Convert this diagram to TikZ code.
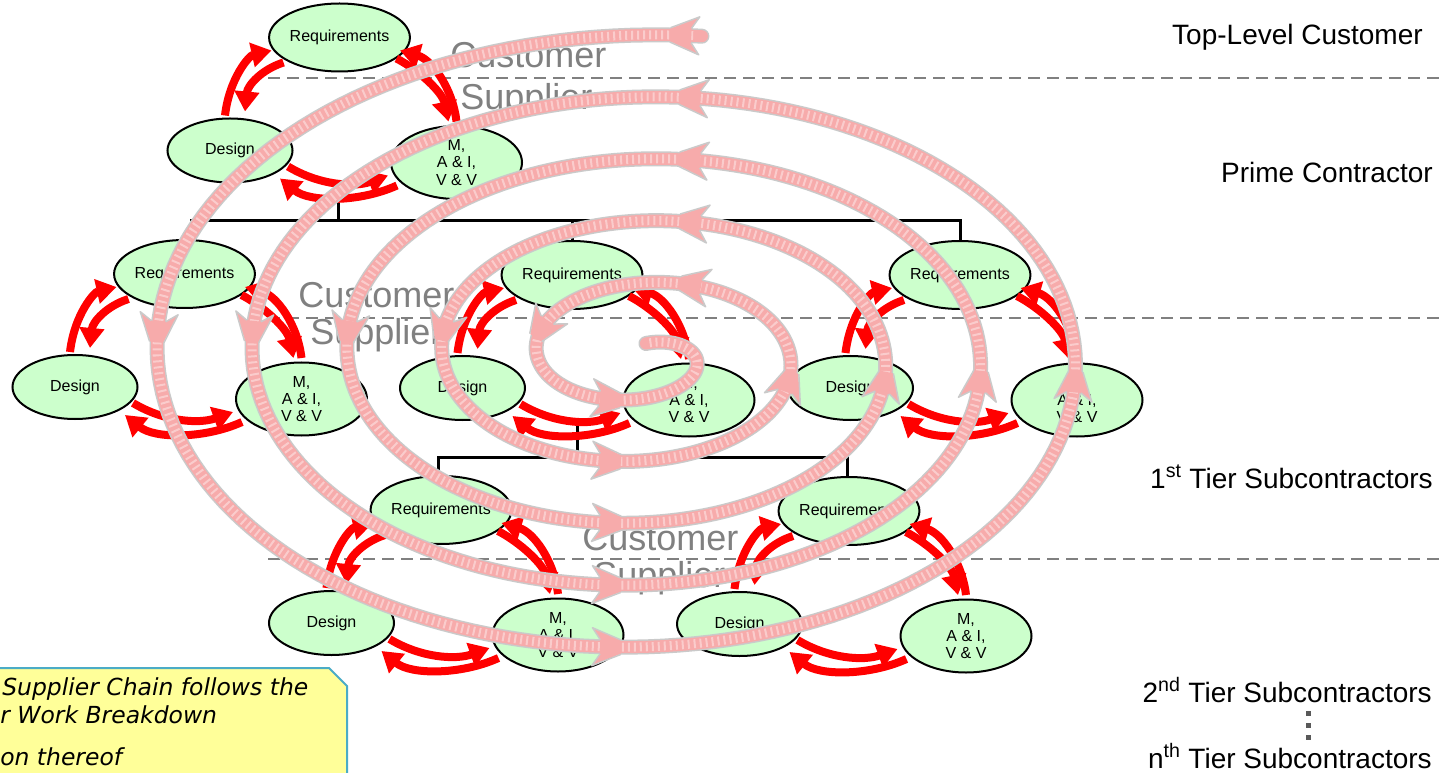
\documentclass[tikz,border=0pt]{standalone}
\usepackage{fontspec}
\setmainfont{Liberation Sans}
\newfontfamily\boxfont{DejaVu Sans}
\usetikzlibrary{arrows.meta,shapes.geometric,calc}
\definecolor{nodegreen}{HTML}{CCFFCC}
\definecolor{redarrow}{HTML}{FF0000}
\definecolor{dashgray}{HTML}{808080}
\definecolor{spiralpink}{HTML}{F7ABAB}
\definecolor{spiralgray}{HTML}{CACACA}
\definecolor{boxyellow}{HTML}{FFFF99}
\definecolor{boxteal}{HTML}{4BACC6}
\tikzset{
  proc/.style={ellipse, draw=black, line width=1.5pt, fill=nodegreen, inner sep=0pt,
    font=\fontsize{12}{13}\selectfont, align=center},
  reqn/.style={proc, minimum width=90.75pt, minimum height=51pt},
  desn/.style={proc, minimum width=93.75pt, minimum height=48pt},
  mn/.style={proc, minimum width=98.25pt, minimum height=54.75pt},
  flow/.style={draw=redarrow, line width=6pt, -{Triangle[length=15pt, width=18pt]}},
  sepline/.style={draw=dashgray, line width=1.9pt, dash pattern=on 9pt off 5.25pt},
  tree/.style={draw=black, line width=2.25pt},
  cslabel/.style={text=dashgray, font=\fontsize{27}{30}\selectfont, anchor=base west, inner sep=0pt},
  tierlabel/.style={font=\fontsize{21}{24}\selectfont, anchor=base east, inner sep=0pt},
  boxtext/.style={font=\boxfont\itshape\fontsize{17.6}{20}\selectfont, anchor=base west, inner sep=0pt},
}
\newcommand\cluster[3]{%
  \node[reqn] (#1r) at (#2,#3) {Requirements};
  \node[desn] (#1d) at (#2-109.5,#3+113) {Design};
  \node[mn] (#1m) at (#2+117,#3+125) {M,\\A \& I,\\V \& V};
}
\newcommand\flows[1]{%
  \draw[flow] ($(#1d.center)+(-5,-35)$) .. controls ($(#1r.center)+(-110,40)$) and ($(#1r.center)+(-90,18)$) .. ($(#1r.center)+(-68,13)$);
  \draw[flow] ($(#1r.center)+(-56,25)$) .. controls ($(#1r.center)+(-78,32)$) and ($(#1r.center)+(-92,48)$) .. ($(#1d.center)+(15,-39)$);
  \draw[flow] ($(#1r.center)+(57,21)$) .. controls ($(#1r.center)+(80,33)$) and ($(#1r.center)+(103,55)$) .. ($(#1m.center)+(-8,-41)$);
  \draw[flow] ($(#1m.center)+(0,-41)$) .. controls ($(#1r.center)+(113,50)$) and ($(#1r.center)+(92,22)$) .. ($(#1r.center)+(60.5,13)$);
  \draw[flow] ($(#1d.center)+(58,16)$) .. controls ($(#1r.center)+(-20,148)$) and ($(#1r.center)+(15,150)$) .. ($(#1m.center)+(-68.5,13)$);
  \draw[flow] ($(#1m.center)+(-59.5,23)$) .. controls ($(#1r.center)+(20,165)$) and ($(#1r.center)+(-30,165)$) .. ($(#1d.center)+(50,28)$);
}
\begin{document}
\begin{tikzpicture}[x=0.75pt, y=-0.75pt,
  declare function={
    sa(\q)=530.25-0.26389*\q;
    sb(\q)=337-0.17222*\q;
    sx(\q)=640+sa(\q)*cos(\q);
    sy(\q)=356.5-sb(\q)*sin(\q);
  }]
\useasboundingbox (0,0) rectangle (1445,773);
\fill[white] (0,0) rectangle (1445,773);
\clip (0,0) rectangle (1445,773);

% separator lines
\draw[sepline] (268,78) -- (1445,78);
\draw[sepline] (268,318) -- (1445,318);
\draw[sepline] (268,559) -- (1445,559);

% clusters
\cluster{p}{339.5}{37.5}
\cluster{a}{184.5}{274}
\cluster{b}{572}{275}
\cluster{c}{960}{275}
\cluster{d}{441}{510}
\cluster{e}{849}{511}

% tree connectors
\coordinate (bar1) at (338,221);
\draw[tree] ([xshift=5.25pt]ar.north) |- (bar1) -| (cr.north);
\draw[tree] (br.north) |- (bar1);
\draw[tree] (bar1) -- ++(0,-29);
\coordinate (bar2) at (577,457);
\draw[tree] ([xshift=-2.25pt]dr.north) |- (bar2) -| ([xshift=-1.5pt]er.north);
\draw[tree] (bar2) -- ++(0,-32);

% red flows
\flows{p}
\flows{a}
\flows{b}
\flows{c}
\flows{d}
\flows{e}

% customer / supplier labels
\node[cslabel] (cu1) at (450,68) {Customer};
\node[cslabel] (su1) at (460,110) {Supplier};
\node[cslabel] (cu2) at (298,308) {Customer};
\node[cslabel] (su2) at (310,345) {Supplier};
\node[cslabel] (cu3) at (582,550) {Customer};
\node[cslabel] (su3) at (593,587) {Supplier};

% tier labels
\node[tierlabel] (t0) at (1423,45) {Top-Level Customer};
\node[tierlabel] (t1) at (1433,183) {Prime Contractor};
\node[tierlabel] (t2) at (1433,488) {1\textsuperscript{st} Tier Subcontractors};
\node[tierlabel] (t3) at (1432,702) {2\textsuperscript{nd} Tier Subcontractors};
\node[tierlabel] (t4) at (1432,768) {n\textsuperscript{th} Tier Subcontractors};
\fill[black!65] (1305.5,710.5) rectangle ++(5,5);
\fill[black!65] (1305.5,722.5) rectangle ++(5,5);
\fill[black!65] (1305.5,734.5) rectangle ++(5,5);

% note box
\filldraw[fill=boxyellow, draw=boxteal, line width=1.5pt] (-10,668) -- (329,668) -- (347,686) -- (347,790) -- (-10,790) -- cycle;
\node[boxtext] (n1) at (2,695) {Supplier Chain follows the};
\node[boxtext] (n2) at (0,723) {r Work Breakdown};
\node[boxtext] (n3) at (0,765) {on thereof};

% spiral
\draw[spiralgray, line width=11.25pt, line cap=round, line join=round]
  plot[domain=83:1880, samples=900, variable=\t] ({sx(\t)},{sy(\t)});
\draw[spiralpink, line width=9pt, line cap=round, line join=round]
  plot[domain=83:1880, samples=900, variable=\t] ({sx(\t)},{sy(\t)});
\draw[white, line width=6.75pt, dash pattern=on 1.5pt off 3pt, opacity=0.4]
  plot[domain=84:1879, samples=900, variable=\t] ({sx(\t)},{sy(\t)});
\foreach \t in {85,174.7,265.9,354,442.6,533.3,624.8,712.4,800.4,891,983,1069,1156.3,1246,1339.2,1422,1506,1591,1687} {
  \pgfmathsetmacro\spx{sx(\t)}
  \pgfmathsetmacro\spy{sy(\t)}
  \pgfmathsetmacro\sang{atan2(-(sy(\t+1)-\spy), sx(\t+1)-\spx)}
  \begin{scope}[shift={(\spx,\spy)}, rotate=\sang]
    \fill[spiralpink] (-7,6.5) -- (-15,19) -- (14,6.5) -- (14,-6.5) -- (-15,-19) -- (-7,-6.5) -- cycle;
    \draw[spiralgray, line width=1.1pt, line join=round] (-7,7.2) -- (-15,19) -- (14,7.2) (-7,-7.2) -- (-15,-19) -- (14,-7.2);
  \end{scope}
}
\end{tikzpicture}
\end{document}
